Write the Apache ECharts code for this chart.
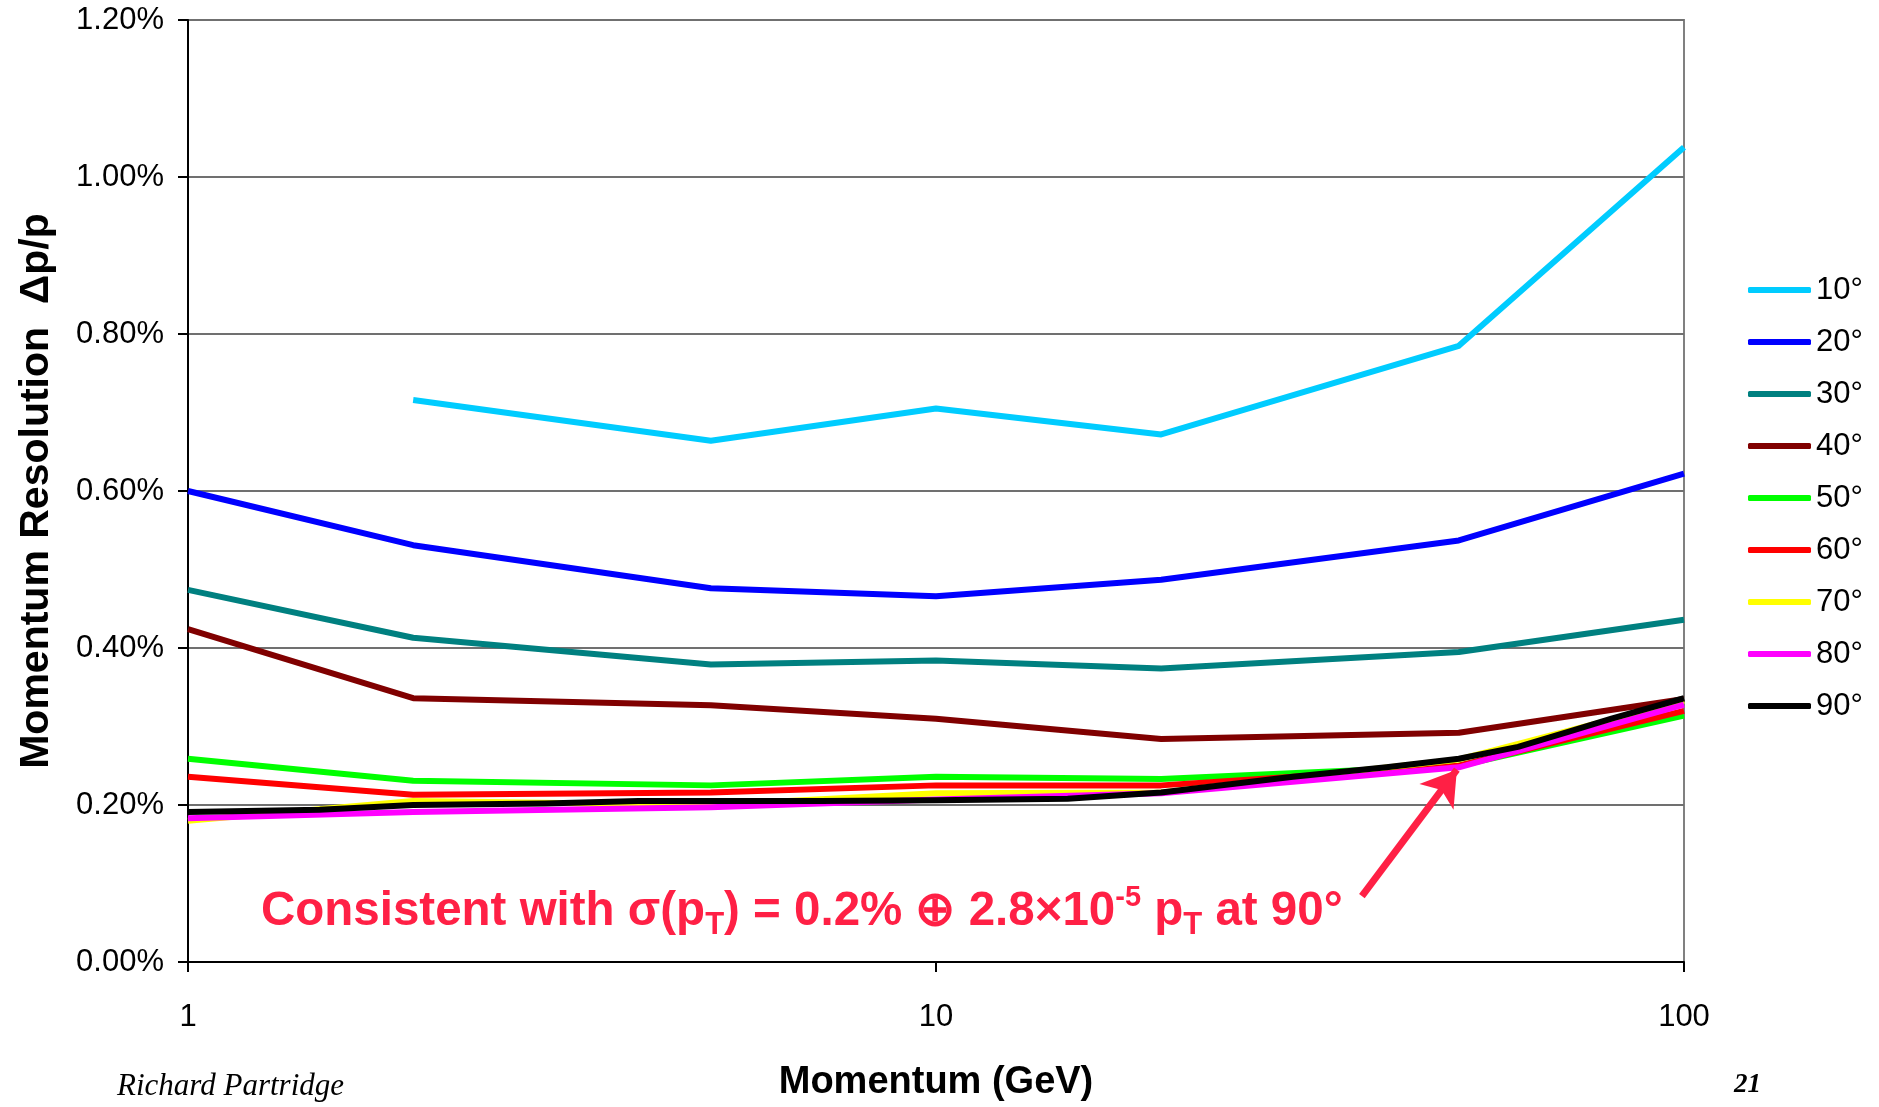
<!DOCTYPE html>
<html>
<head>
<meta charset="utf-8">
<title>Momentum Resolution</title>
<script src="https://cdn.jsdelivr.net/npm/echarts@6/dist/echarts.min.js"></script>
<style>
  html, body { margin: 0; padding: 0; background: #ffffff; }
  #chart { width: 1879px; height: 1107px; }
</style>
</head>
<body>
<div id="chart"></div>
<script>
// Momentum points (GeV) shared by the 10°–80° curves
const momentum = [1, 2, 5, 10, 20, 50, 100];

// Resolution Δp/p in percent, one array per polar angle
const res10 = [null, 0.716, 0.664, 0.705, 0.672, 0.785, 1.038];
const res20 = [0.600, 0.531, 0.476, 0.466, 0.487, 0.537, 0.622];
const res30 = [0.474, 0.413, 0.379, 0.384, 0.374, 0.395, 0.436];
const res40 = [0.424, 0.336, 0.327, 0.310, 0.284, 0.292, 0.335];
const res50 = [0.259, 0.231, 0.225, 0.236, 0.233, 0.250, 0.314];
const res60 = [0.236, 0.213, 0.216, 0.225, 0.225, 0.250, 0.320];
const res70 = [0.180, 0.205, 0.200, 0.215, 0.216, 0.258, 0.333];
const res80 = [0.183, 0.191, 0.197, 0.207, 0.215, 0.248, 0.328];

// The 90° curve is sampled more finely
const momentum90 = [1, 1.5, 2, 3, 4, 5, 7, 10, 15, 20, 30, 40, 50, 60, 70, 80, 100];
const res90 = [0.191, 0.194, 0.200, 0.202, 0.205, 0.205, 0.205, 0.206, 0.208, 0.216, 0.236, 0.248, 0.259, 0.274, 0.293, 0.310, 0.336];

const seriesNames = ['10°', '20°', '30°', '40°', '50°', '60°', '70°', '80°', '90°'];
const seriesColors = ['#00CCFF', '#0000FF', '#008080', '#800000', '#00FF00', '#FF0000', '#FFFF00', '#FF00FF', '#000000'];

// Y-axis tick range (percent)
const yMin = 0, yMax = 1.2, yStep = 0.2;

// Annotation arrow: from the caption up to the 90° curve at 50 GeV
const arrowFrom = [37.1, 0.084];
const arrowTo = [49.7, 0.245];

const FONT = '"Liberation Sans", Arial, sans-serif';
const RED = '#FF2045';
const LINE_W = 6;

function pairs(xs, ys) {
  return xs.map((x, i) => [x, ys[i]]);
}

const curves = [res10, res20, res30, res40, res50, res60, res70, res80];

const series = curves.map((vals, i) => ({
  name: seriesNames[i],
  type: 'line',
  data: pairs(momentum, vals),
  symbol: 'none',
  connectNulls: false,
  lineStyle: { width: LINE_W, color: seriesColors[i], join: 'round' },
  itemStyle: { color: seriesColors[i] },
  emphasis: { disabled: true }
}));

series.push({
  name: seriesNames[8],
  type: 'line',
  data: pairs(momentum90, res90),
  symbol: 'none',
  lineStyle: { width: LINE_W, color: seriesColors[8], join: 'round' },
  itemStyle: { color: seriesColors[8] },
  emphasis: { disabled: true },
  markLine: {
    silent: true,
    animation: false,
    symbol: ['none', 'arrow'],
    symbolSize: [32, 34],
    label: { show: false },
    lineStyle: { color: RED, width: 7, type: 'solid' },
    data: [[
      { coord: arrowFrom, symbol: 'none' },
      { coord: arrowTo, symbol: 'arrow' }
    ]]
  }
});

const chart = echarts.init(document.getElementById('chart'), null, { renderer: 'canvas' });

chart.setOption({
  animation: false,
  backgroundColor: '#ffffff',
  textStyle: { fontFamily: FONT },
  grid: {
    left: 188, right: 195, top: 20, bottom: 136,
    show: true, borderColor: '#808080', borderWidth: 2,
    backgroundColor: 'transparent'
  },
  xAxis: {
    type: 'log',
    logBase: 10,
    min: 1, max: 100,
    name: 'Momentum (GeV)',
    nameLocation: 'middle',
    nameGap: 102,
    nameTextStyle: { fontSize: 38, fontWeight: 'bold', color: '#000', fontFamily: FONT },
    axisLine: { show: true, lineStyle: { color: '#000', width: 2 } },
    axisTick: { show: true, length: 10, lineStyle: { color: '#000', width: 2 } },
    minorTick: { show: false },
    axisLabel: { fontSize: 31, color: '#000', margin: 40, fontFamily: FONT,
      formatter: v => String(Math.round(v)) },
    splitLine: { show: false }
  },
  yAxis: {
    type: 'value',
    min: yMin, max: yMax, interval: yStep,
    name: 'Momentum Resolution  Δp/p',
    nameLocation: 'middle',
    nameGap: 131,
    nameRotate: 90,
    nameTextStyle: { fontSize: 41, fontWeight: 'bold', color: '#000', fontFamily: FONT },
    axisLine: { show: true, lineStyle: { color: '#000', width: 2 } },
    axisTick: { show: true, length: 10, lineStyle: { color: '#000', width: 2 } },
    axisLabel: { fontSize: 31, color: '#000', margin: 24, fontFamily: FONT,
      formatter: v => v.toFixed(2) + '%' },
    splitLine: { show: true, lineStyle: { color: '#707070', width: 2 } }
  },
  legend: {
    orient: 'vertical',
    left: 1743,
    top: 269,
    icon: 'roundRect',
    itemWidth: 63,
    itemHeight: 6,
    itemGap: 20,
    data: seriesNames,
    selectedMode: false,
    textStyle: { fontSize: 31, color: '#000', fontFamily: FONT, lineHeight: 32 }
  },
  graphic: [
    {
      type: 'text',
      left: 261,
      top: 883,
      silent: true,
      style: {
        text: '{a|Consistent with σ(p}{s|T}{a|) = 0.2% ⊕ 2.8×10}{u|-5}{a| p}{s|T}{a| at 90°}',
        rich: {
          a: { fill: RED, fontSize: 47.5, fontWeight: 'bold', fontFamily: FONT, lineHeight: 58, verticalAlign: 'middle' },
          s: { fill: RED, fontSize: 31, fontWeight: 'bold', fontFamily: FONT, lineHeight: 30, verticalAlign: 'bottom' },
          u: { fill: RED, fontSize: 29, fontWeight: 'bold', fontFamily: FONT, lineHeight: 28, verticalAlign: 'top' }
        }
      }
    },
    {
      type: 'text',
      left: 117,
      top: 1071,
      silent: true,
      style: {
        text: 'Richard Partridge',
        fill: '#000',
        font: 'italic 31px "Liberation Serif", "DejaVu Serif", serif'
      }
    },
    {
      type: 'text',
      left: 1734,
      top: 1072,
      silent: true,
      style: {
        text: '21',
        fill: '#000',
        font: 'italic bold 27px "Liberation Serif", "DejaVu Serif", serif'
      }
    }
  ],
  series: series
});
</script>
</body>
</html>
